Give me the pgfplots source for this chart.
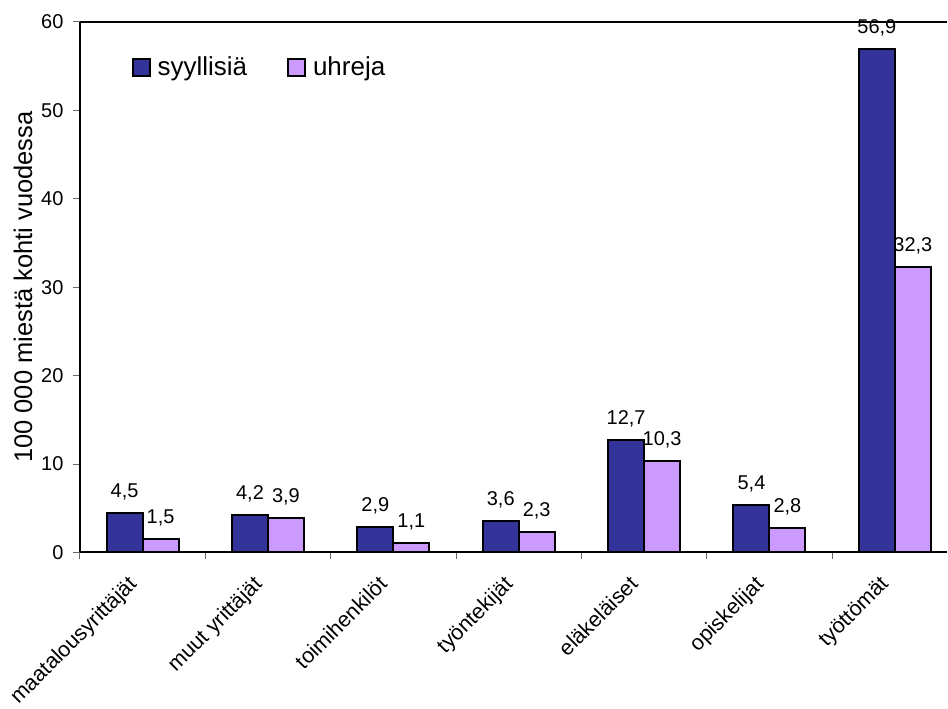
\documentclass[border=0pt]{standalone}
\usepackage{pgfplots}
\pgfplotsset{compat=1.18}
\usepackage{fontspec}
\setmainfont{Liberation Sans}
\definecolor{syy}{HTML}{333399}
\definecolor{uhr}{HTML}{CC99FF}

\begin{document}
\begin{tikzpicture}
\begin{axis}[
    name=ax,
    width=868pt, height=531pt, scale only axis,
    xmin=-0.5, xmax=6.416,
    ymin=0, ymax=60,
    axis x line*=box, axis y line*=left,
    axis line style={line width=2pt},
    ybar=0pt, bar width=0.287,
    ytick={0,10,...,60},
    xtick={0,...,6},
    xticklabels={maatalousyrittäjät,muut yrittäjät,toimihenkilöt,työntekijät,eläkeläiset,opiskelijat,työttömät},
    minor xtick={-0.5,0.5,...,5.5},
    tick align=outside, tick pos=left,
    major tick length=7pt, minor tick length=7pt,
    major x tick style={draw=none},
    minor x tick style={draw=black!60, line width=1pt},
    major y tick style={draw=black!60, line width=1pt},
    /pgf/number format/assume math mode=true,
    tick label style={font=\fontsize{20}{23}\selectfont},
    yticklabel style={xshift=-6pt},
    xticklabel style={font=\fontsize{21.5}{24}\selectfont, xshift=-16pt, yshift=-15pt, rotate=45, anchor=north east, inner sep=0pt},
    ylabel={100 000 miestä kohti vuodessa},
    every axis y label/.style={at={(rel axis cs:-0.0657,0.5)}, rotate=90, anchor=center, font=\fontsize{25.5}{28}\selectfont},
    nodes near coords={\pgfmathprintnumber[fixed,fixed zerofill,precision=1,use comma]{\pgfplotspointmeta}},
    every node near coord/.append style={font=\fontsize{20}{23}\selectfont, anchor=south, inner sep=0pt, yshift=12pt, text=black},
    legend style={at={(rel axis cs:0.056,0.915)}, anchor=west, draw=none, fill=none,
        font=\fontsize{26}{30}\selectfont, nodes={inner sep=0pt},
        /tikz/every odd column/.append style={column sep=7pt},
        /tikz/every even column/.append style={column sep=40pt}},
    legend columns=2,
    legend image code/.code={\draw[#1, line width=2pt] (0pt,-8.5pt) rectangle (17pt,8.5pt);},
    clip=false,
]
\addplot[fill=syy, draw=black, line width=2pt] coordinates {
    (0,4.5) (1,4.2) (2,2.9) (3,3.6) (4,12.7) (5,5.4) (6,56.9)
};
\addplot[fill=uhr, draw=black, line width=2pt] coordinates {
    (0,1.5) (1,3.9) (2,1.1) (3,2.3) (4,10.3) (5,2.8) (6,32.3)
};
\legend{syyllisiä,uhreja}
\end{axis}
\path (ax.south west) ++(-80pt,-156pt) (ax.north east) ++(0pt,22pt);
\end{tikzpicture}
\end{document}
